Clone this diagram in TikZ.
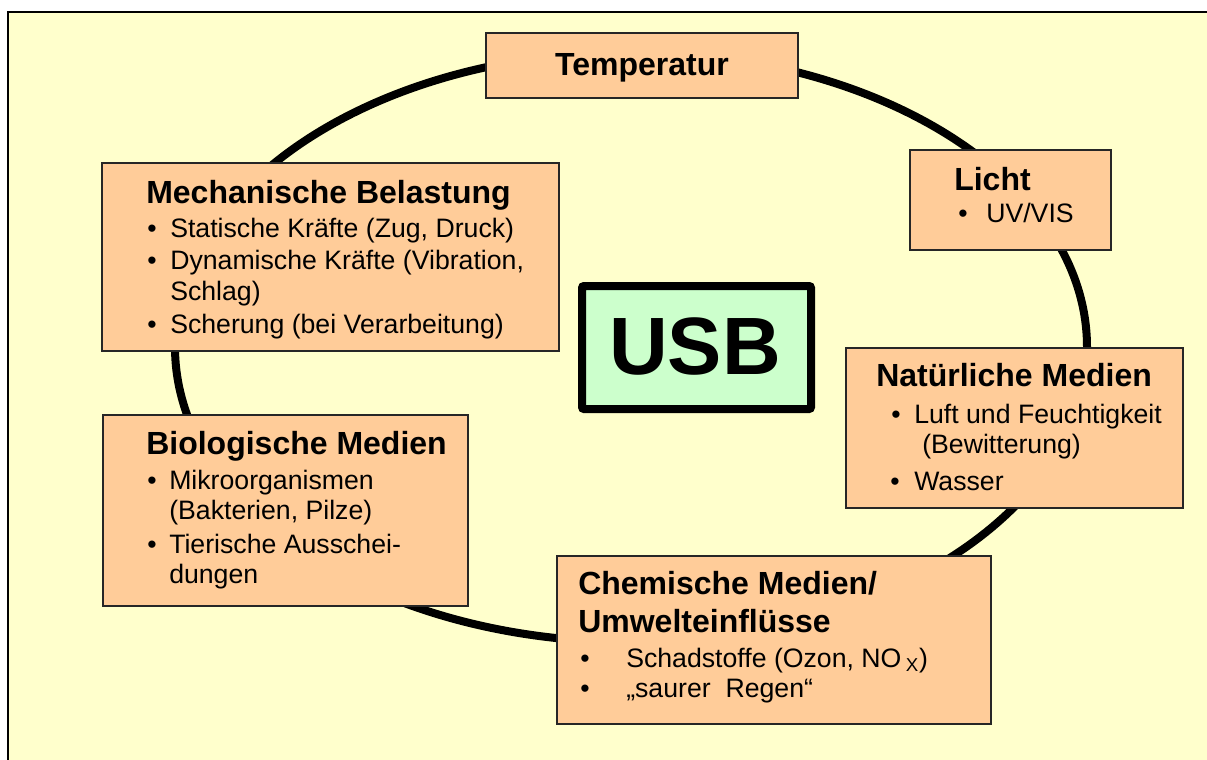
\documentclass[tikz,border=0pt]{standalone}
\usepackage{fontspec}
\setmainfont{Liberation Sans}
\usetikzlibrary{fit}
\definecolor{bg}{HTML}{FFFFCC}
\definecolor{boxfill}{HTML}{FFCC99}
\definecolor{usbfill}{HTML}{CCFFCC}
\begin{document}
\begin{tikzpicture}[x=0.75pt,y=-0.75pt,
  frame/.style={draw=black, line width=2pt, fill=bg},
  ring/.style={draw=black, line width=6pt},
  box/.style={draw=black!85, line width=1.2pt, fill=boxfill, inner sep=0pt},
  usbbox/.style={draw=black, line width=6pt, fill=usbfill, inner sep=0pt, rounded corners=1.5pt},
  ttl/.style={font=\bfseries\fontsize{24}{28}\selectfont, inner sep=0pt, anchor=base west},
  txt/.style={font=\fontsize{20}{24}\selectfont, inner sep=0pt, anchor=base west},
  bul/.style={font=\fontsize{20}{24}\selectfont, inner sep=0pt, anchor=base west}]
\useasboundingbox (0,0) rectangle (1207,760);
\clip (0,0) rectangle (1207,760);
% background frame
\path[frame] (8,12) rectangle (1230,790);
% ring
\draw[ring] (631,347) ellipse [x radius=342pt, y radius=221.25pt];
% boxes
\node[box, fit={(486,33) (798,98)}] (temp) {};
\node[box, fit={(910,150) (1111,250)}] (licht) {};
\node[box, fit={(102,163) (559,351)}] (mech) {};
\node[box, fit={(846,348) (1183,508)}] (nat) {};
\node[box, fit={(103,415) (468,606)}] (bio) {};
\node[box, fit={(557,556) (991,724)}] (chem) {};
\node[usbbox, fit={(582,286) (811,409)}] (usb) {};
% USB text
\node[font=\bfseries\fontsize{61}{70}\selectfont, inner sep=0pt, anchor=base] (usbt) at (695,374) {USB};
% Temperatur
\node[ttl, anchor=base] (tempt) at (642,75) {Temperatur};
% Licht
\node[ttl] (lichtt) at (954,190) {Licht};
\node[bul] (lichtb1) at (958,222) {•};
\node[txt] (licht1) at (986,222) {UV/VIS};
% Mechanische Belastung
\node[ttl] (mecht) at (146,203) {Mechanische Belastung};
\node[bul] (mechb1) at (147,237) {•};
\node[txt] (mech1) at (170,237) {Statische Kräfte (Zug, Druck)};
\node[bul] (mechb2) at (147,269) {•};
\node[txt] (mech2) at (170,269) {Dynamische Kräfte (Vibration,};
\node[txt] (mech2b) at (170,300) {Schlag)};
\node[bul] (mechb3) at (147,333) {•};
\node[txt] (mech3) at (170,333) {Scherung (bei Verarbeitung)};
% Natuerliche Medien
\node[ttl] (natt) at (876,386) {Natürliche Medien};
\node[bul] (natb1) at (891,423) {•};
\node[txt] (nat1) at (914,423) {Luft und Feuchtigkeit};
\node[txt] (nat1b) at (922,453) {(Bewitterung)};
\node[bul] (natb2) at (890,490) {•};
\node[txt] (nat2) at (914,490) {Wasser};
% Biologische Medien
\node[ttl] (biot) at (146,454) {Biologische Medien};
\node[bul] (biob1) at (147,489) {•};
\node[txt] (bio1) at (169,489) {Mikroorganismen};
\node[txt] (bio1b) at (169,519) {(Bakterien, Pilze)};
\node[bul] (biob2) at (147,553) {•};
\node[txt] (bio2) at (169,553) {Tierische Ausschei-};
\node[txt] (bio2b) at (169,583) {dungen};
% Chemische Medien
\node[ttl] (chemt) at (578,594) {Chemische Medien/};
\node[ttl] (chemt2) at (578,632) {Umwelteinflüsse};
\node[bul] (chemb1) at (580,667) {•};
\node[txt] (chem1) at (626,667) {Schadstoffe (Ozon, NO\,\textsubscript{X})};
\node[bul] (chemb2) at (580,697) {•};
\node[txt] (chem2) at (626,697) {„saurer \ Regen“};
\end{tikzpicture}
\end{document}
